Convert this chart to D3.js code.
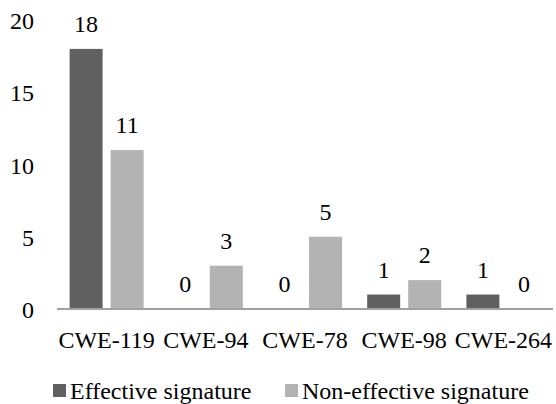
<!DOCTYPE html>
<html>
<head>
<meta charset="utf-8">
<script src="https://cdn.jsdelivr.net/npm/d3@7"></script>
<style>
body { margin: 0; background: #fff; }
svg { display: block; }
svg text { font-family: "Liberation Serif", "Times New Roman", serif; font-size: 24px; fill: #000; }
</style>
</head>
<body>
<svg id="chart" width="556" height="404" font-family="Liberation Serif, Times New Roman, serif"></svg>
<script>
const categories = ["CWE-119", "CWE-94", "CWE-78", "CWE-98", "CWE-264"];
const seriesNames = ["Effective signature", "Non-effective signature"];
const effective = [18, 0, 0, 1, 1];
const nonEffective = [11, 3, 5, 2, 0];
const yTicks = [0, 5, 10, 15, 20];
const colors = ["#606060", "#b3b3b3"];

const svg = d3.select("#chart");
const x0 = 57, x1 = 553, yBase = 309, yTop = 20;

const x = d3.scaleBand().domain(categories).range([x0, x1]).paddingInner(0).paddingOuter(0);
const y = d3.scaleLinear().domain([0, 20]).range([yBase, yTop]);

const barW = 33, gap = 8;
const groupW = barW * 2 + gap;
const sub = d3.scaleOrdinal().domain([0, 1]).range([(x.bandwidth() - groupW) / 2, (x.bandwidth() - groupW) / 2 + barW + gap]);

const series = [effective, nonEffective];

// y tick labels
svg.append("g").selectAll("text").data(yTicks).join("text")
  .attr("x", 34).attr("y", d => y(d) + 9)
  .attr("text-anchor", "end")
  .text(d => d);

// bars + value labels
series.forEach((vals, si) => {
  const g = svg.append("g");
  g.selectAll("rect").data(vals).join("rect")
    .attr("x", (d, i) => x(categories[i]) + sub(si))
    .attr("y", d => y(d))
    .attr("width", barW)
    .attr("height", d => yBase - y(d))
    .attr("fill", colors[si]);
  g.selectAll("text").data(vals).join("text")
    .attr("x", (d, i) => x(categories[i]) + sub(si) + barW / 2)
    .attr("y", d => y(d) - 17)
    .attr("text-anchor", "middle")
    .text(d => d);
});

// x axis line
svg.append("line").attr("x1", x0).attr("x2", x1).attr("y1", yBase).attr("y2", yBase)
  .attr("stroke", "#a0a0a0").attr("stroke-width", 2);

// category labels
svg.append("g").selectAll("text").data(categories).join("text")
  .attr("x", d => x(d) + x.bandwidth() / 2).attr("y", 348)
  .attr("text-anchor", "middle")
  .text(d => d);

// legend
const legX = [53, 285];
const leg = svg.append("g").selectAll("g").data(seriesNames).join("g")
  .attr("transform", (d, i) => `translate(${legX[i]},0)`);
leg.append("rect").attr("x", 0).attr("y", 384).attr("width", 13).attr("height", 13)
  .attr("fill", (d, i) => colors[i]);
leg.append("text").attr("x", 17).attr("y", 399)
  .text(d => d);
</script>
</body>
</html>
